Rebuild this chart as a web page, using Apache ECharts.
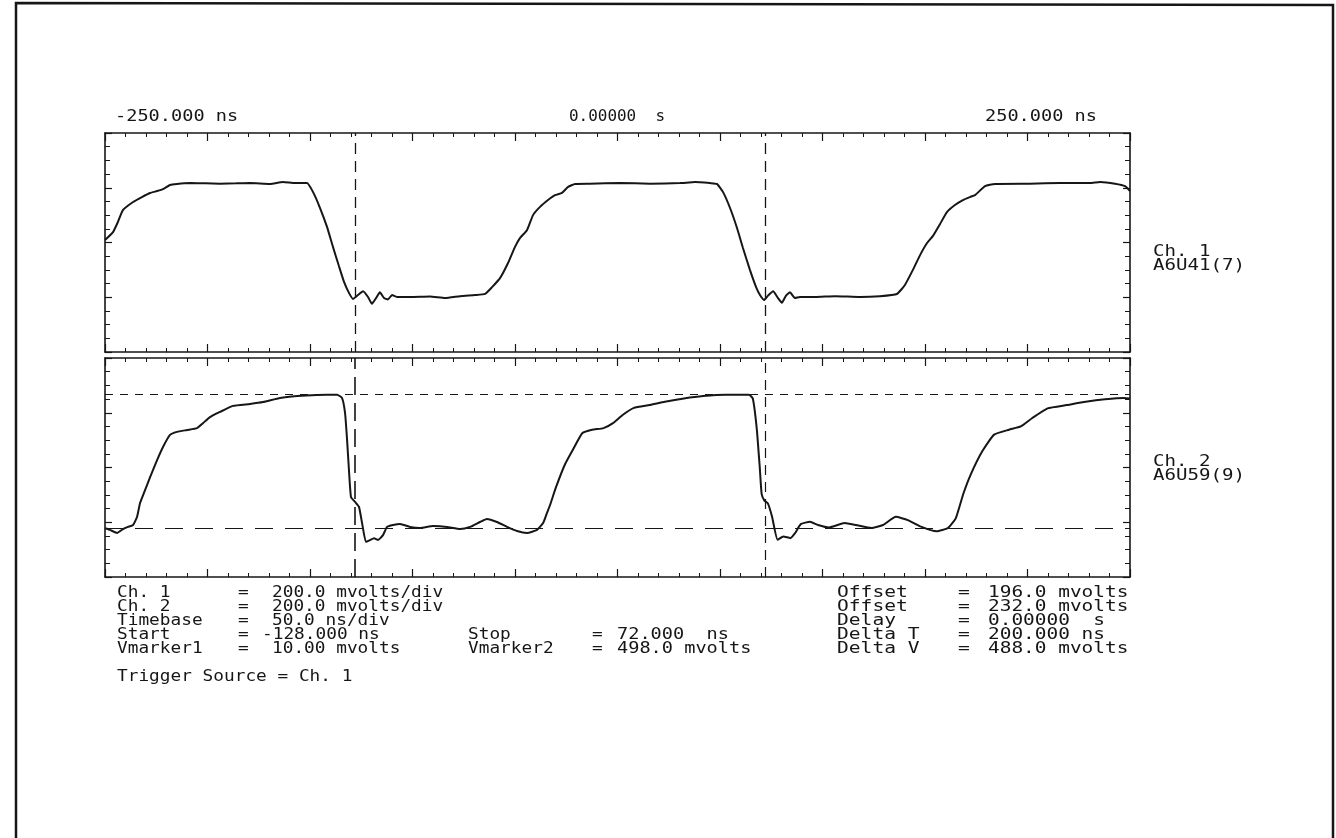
<!DOCTYPE html>
<html><head><meta charset="utf-8">
<script src="https://cdn.jsdelivr.net/npm/echarts@6/dist/echarts.min.js"></script>
<style>html,body{margin:0;padding:0;background:#fff}#c{width:1336px;height:838px}</style>
</head><body><div id="c"></div><script>
// ---- Channel 1 (ns, mV) ----
const ch1Time = [-250,-246.1,-243.7,-241.2,-236.3,-232.0,-228.0,-224.6,-221.7,-218.3,-214.9,-208.5,-201,-193.9,-186,-179.3,-169.5,-163.2,-157.3,-151.5,-148.5,-145.1,-141.7,-138.8,-135.9,-133.4,-131.0,-129.0,-126.6,-124.1,-121.7,-119.8,-117.8,-115.9,-113.9,-112.0,-110.0,-107.6,-101.2,-91.5,-84.1,-76.8,-69.5,-64.6,-61.2,-57.3,-53.4,-50.0,-47.6,-44.1,-41.2,-37.8,-33.9,-30.5,-27.1,-24.1,-20.7,-13.4,1.2,15.9,30.5,37.8,45.1,48.5,51.5,54.9,58.3,61.2,64.6,67.6,69.5,71.5,73.4,75.9,78.3,80.2,82.2,84.1,86.6,89.0,96.3,106.1,118.3,128.0,136.3,140.2,144.1,147.6,151.0,153.9,157.3,160.7,164.6,168.5,171.9,174.4,179.3,184.1,201.2,215.9,230.5,235.4,242.7,247.6,250];
const ch1Mv   = [205,234,271,315,344,362,377,384,391,406,410,413,412,411,412,413,410,417,413,413,380,322,253,180,110,52,12,-10,4,18,-3,-28,-7,14,-7,-12,4,-3,-3,-1,-7,0,4,8,33,66,121,180,212,242,296,326,351,369,377,399,410,411,413,411,413,417,413,410,380,322,249,176,96,33,4,-14,2,18,-7,-24,2,14,-7,-3,-3,0,-3,0,8,41,96,150,194,220,263,307,333,351,362,369,402,410,411,413,413,417,411,402,384];
// ---- Channel 2 (ns, mV) ----
const ch2Time = [-250,-247.6,-244.1,-241.2,-238.8,-236.3,-234.4,-232.9,-231.0,-228.0,-224.6,-221.7,-218.3,-214.9,-210.0,-205.1,-202.2,-198.8,-193.9,-187.6,-179.3,-172.9,-164.6,-156.3,-146.6,-136.8,-134.4,-132.9,-132.0,-131.0,-130.0,-128.0,-126.1,-124.6,-122.7,-120.7,-118.8,-116.8,-114.4,-112.4,-109.5,-106.1,-101.2,-96.3,-90.0,-83.2,-76.8,-71.9,-67.1,-63.7,-58.8,-53.9,-49.0,-44.1,-39.3,-36.3,-34.4,-32.9,-30.0,-25.6,-21.7,-17.1,-12.4,-6.8,-2.2,2.5,8.0,15.6,23.1,32.4,41.7,52.9,64.1,66.0,67.9,69.4,70.3,71.6,73.4,75.4,78.1,80.9,84.3,86.6,89.4,93.9,97.8,103.2,110.8,116.3,123.9,129.5,135.8,141.6,148.0,155.6,161.2,165.0,168.7,172.4,178.0,183.7,191.0,196.7,202.2,209.8,219.1,228.4,237.8,247.1,250];
const ch2Mv   = [10,4,-7,7,15,22,51,102,139,197,259,307,351,362,369,376,394,416,435,457,464,471,486,493,497,498,486,431,343,223,124,106,88,29,-40,-33,-26,-33,-15,15,22,26,15,11,18,15,7,15,33,44,33,15,0,-7,4,29,66,95,160,244,298,358,370,376,394,424,450,460,472,484,493,498,498,484,376,232,136,112,100,52,-32,-20,-26,-8,25,34,22,13,29,22,11,22,52,40,16,-1,11,46,136,208,292,352,370,382,412,448,460,472,481,486,484];

// ---- scope settings / markers ----
const timeRange = [-250, 250];          // ns
const timePerDiv = 50;                  // ns/div
const voltsPerDiv = 200;                // mV/div
const ch1Offset = 196, ch2Offset = 232; // mV (screen centre)
const cursorTimes = [-128, 72];         // Start / Stop, ns
const voltMarkers = [10, 498];          // Vmarker1 / Vmarker2, mV
const topTimeLabels = ['-250.000 ns', '0.00000  s', '250.000 ns'];
const channelLabels = [['Ch. 1', 'A6U41(7)'], ['Ch. 2', 'A6U59(9)']];
const infoLeftLabels = ['Ch. 1', 'Ch. 2', 'Timebase', 'Start', 'Vmarker1'];
const infoLeftValues = ['200.0 mvolts/div', '200.0 mvolts/div', '50.0 ns/div', '-128.000 ns', '10.00 mvolts'];
const infoMidLabels  = ['Stop', 'Vmarker2'];
const infoMidValues  = ['72.000  ns', '498.0 mvolts'];
const infoRightLabels = ['Offset', 'Offset', 'Delay', 'Delta T', 'Delta V'];
const infoRightValues = ['196.0 mvolts', '232.0 mvolts', '0.00000  s', '200.000 ns', '488.0 mvolts'];
const triggerText = 'Trigger Source = Ch. 1';

const zip = (a, b) => a.map((t, i) => [t, b[i]]);
const INK = '#161616';
const FONT = '"DejaVu Sans Mono", "Liberation Mono", monospace';
const FS = 15, ADV = 0.602 * FS;

function txt(str, x, y, pitch, align) {
  return {
    type: 'text', x: x, y: y, scaleX: pitch / ADV, silent: true,
    style: { text: str, font: FS + 'px ' + FONT, fill: INK,
      align: align || 'left', verticalAlign: 'middle',
      textAlign: align || 'left', textVerticalAlign: 'middle' }
  };
}

const G = [{ left: 105, top: 133, width: 1025, height: 219 },
           { left: 105, top: 358, width: 1025, height: 219 }];

const lineAx = { show: true, onZero: false, lineStyle: { color: INK, width: 1.6 } };
function xAx(gi, pos) {
  return { type: 'value', gridIndex: gi, position: pos, min: timeRange[0], max: timeRange[1],
    interval: timePerDiv, axisLine: lineAx, axisLabel: { show: false }, splitLine: { show: false },
    axisTick: { show: true, inside: true, length: 8, lineStyle: { color: INK, width: 1.2 } },
    minorTick: { show: true, splitNumber: 5, length: 4, lineStyle: { color: INK, width: 1 } } };
}
function yDiv(gi, pos) {
  return { type: 'value', gridIndex: gi, position: pos, min: 0, max: 4, interval: 1,
    axisLine: lineAx, axisLabel: { show: false }, splitLine: { show: false },
    axisTick: { show: true, inside: true, length: 7, lineStyle: { color: INK, width: 1.2 } },
    minorTick: { show: true, splitNumber: 4, length: 5, lineStyle: { color: INK, width: 1 } } };
}
function yData(gi, off) {
  return { type: 'value', gridIndex: gi, show: false, min: off - 2 * voltsPerDiv, max: off + 2 * voltsPerDiv,
    axisLine: { show: false, onZero: false }, splitLine: { show: false } };
}

const vCursors = cursorTimes.map(t => ({ xAxis: t }));
const option = {
  animation: false,
  backgroundColor: '#fff',
  grid: G,
  xAxis: [xAx(0, 'bottom'), xAx(0, 'top'), xAx(1, 'bottom'), xAx(1, 'top')],
  yAxis: [yData(0, ch1Offset), yDiv(0, 'left'), yDiv(0, 'right'),
          yData(1, ch2Offset), yDiv(1, 'left'), yDiv(1, 'right')],
  series: [
    { type: 'line', name: 'Ch. 1', xAxisIndex: 0, yAxisIndex: 0, data: zip(ch1Time, ch1Mv),
      showSymbol: false, smooth: 0.15, lineStyle: { color: INK, width: 2 }, silent: true,
      markLine: { silent: true, symbol: 'none', label: { show: false },
        lineStyle: { color: INK, width: 1.3, type: [11, 7] }, data: vCursors } },
    { type: 'line', name: 'Ch. 2', xAxisIndex: 2, yAxisIndex: 3, data: zip(ch2Time, ch2Mv),
      showSymbol: false, smooth: 0.15, lineStyle: { color: INK, width: 2 }, silent: true,
      markLine: { silent: true, symbol: 'none', label: { show: false },
        data: [
          { xAxis: cursorTimes[0], lineStyle: { color: INK, width: 1.6, type: [18, 8] } },
          { xAxis: cursorTimes[1], lineStyle: { color: INK, width: 1.2, type: [10, 7] } },
          { yAxis: voltMarkers[1], lineStyle: { color: INK, width: 1, type: [8, 7] } },
          { yAxis: voltMarkers[0], lineStyle: { color: INK, width: 1.2, type: [18, 12] } }
        ] } }
  ],
  graphic: []
};

const gr = option.graphic;
// page border
gr.push({ type: 'polyline', silent: true, shape: { points: [[1333, 838], [1333, 5], [16, 3], [16, 838]] },
  style: { stroke: INK, lineWidth: 2.5, fill: null } });
// top time labels
gr.push(txt(topTimeLabels[0], 115, 117, 11.2));
gr.push(txt(topTimeLabels[1], 617, 117, 9.6, 'center'));
gr.push(txt(topTimeLabels[2], 1097, 117, 11.2, 'right'));
// channel labels
channelLabels.forEach((pair, i) => {
  const y0 = i === 0 ? 252 : 462;
  gr.push(txt(pair[0], 1153, y0, 11.5));
  gr.push(txt(pair[1], 1153, y0 + 14, 11.5));
});
// info block
const rowY = [593, 607, 621, 635, 649];
infoLeftLabels.forEach((s, i) => {
  gr.push(txt(s, 117, rowY[i], 10.7));
  gr.push(txt('=', 238, rowY[i], 10.7));
  gr.push(txt(infoLeftValues[i], infoLeftValues[i].startsWith('-') ? 262 : 272, rowY[i], 10.7));
});
infoMidLabels.forEach((s, i) => {
  gr.push(txt(s, 468, rowY[3 + i], 10.7));
  gr.push(txt('=', 592, rowY[3 + i], 10.7));
  gr.push(txt(infoMidValues[i], 617, rowY[3 + i], 11.2));
});
infoRightLabels.forEach((s, i) => {
  gr.push(txt(s, 837, rowY[i], 11.8));
  gr.push(txt('=', 958, rowY[i], 11.8));
  gr.push(txt(infoRightValues[i], 988, rowY[i], 11.7));
});
gr.push(txt(triggerText, 117, 677, 10.7));

const chart = echarts.init(document.getElementById('c'), null, { renderer: 'canvas' });
chart.setOption(option);
</script></body></html>
